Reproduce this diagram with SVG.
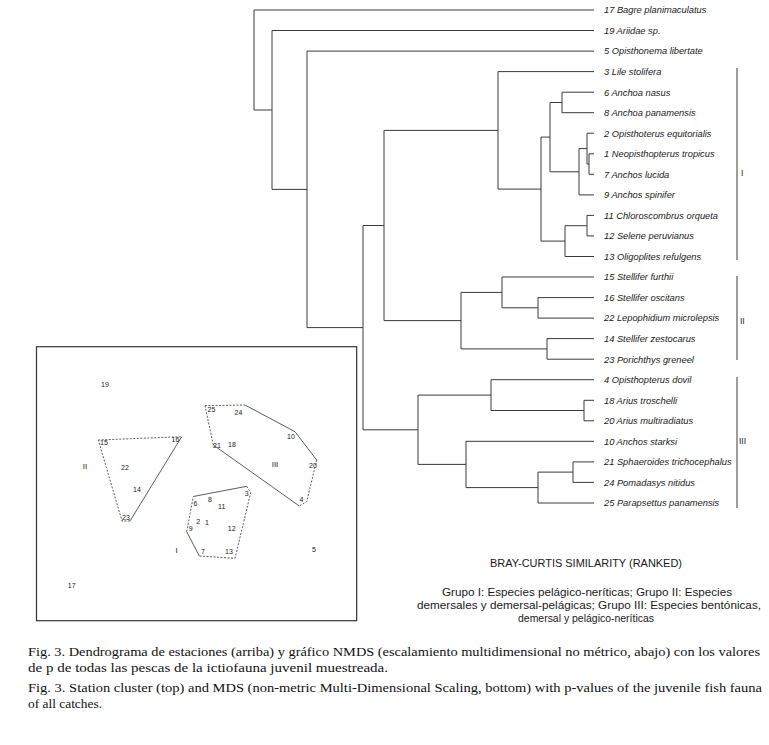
<svg xmlns="http://www.w3.org/2000/svg" width="769" height="745" viewBox="0 0 769 745">
<style>
.bg{fill:#ffffff}
.ln{fill:none;stroke:#3a3a3a;stroke-width:1}
.lf{font-family:"Liberation Sans",Arial,sans-serif;font-style:italic;font-size:9.3px;fill:#1a1a1a}
.gr{font-family:"Liberation Sans",Arial,sans-serif;font-size:8.5px;fill:#1a1a1a}
.pt{font-family:"Liberation Sans",Arial,sans-serif;font-size:7px;fill:#1a1a1a;text-anchor:middle}
.rn{font-family:"Liberation Sans",Arial,sans-serif;font-size:8px;fill:#1a1a1a;text-anchor:middle}
.box{fill:none;stroke:#333;stroke-width:1.2}
.dsh{fill:none;stroke:#333;stroke-width:0.8;stroke-dasharray:2,1.5}
.sol{fill:none;stroke:#333;stroke-width:0.8}
.ttl{font-family:"Liberation Sans",Arial,sans-serif;font-size:11.5px;fill:#1a1a1a;text-anchor:middle}
.cap{font-family:"Liberation Serif","Times New Roman",serif;font-size:12.5px;fill:#111}
</style>
<rect class="bg" x="0" y="0" width="769" height="745"/>

<g id="connectors">
<path class="ln" d="
M254,10 V110 M254,10 H594 M254,110 H272
M272,30.5 V189.4 M272,30.5 H594 M272,189.4 H307
M307,51.1 V327.6 M307,51.1 H594 M307,327.6 H363
M363,225.5 V429.8 M363,225.5 H384 M363,429.8 H418
M384,130.4 V320.6 M384,130.4 H498 M384,320.6 H461
M498,71.6 V189.1 M498,71.6 H594 M498,189.1 H541
M541,137.1 V241.1 M541,137.1 H550 M541,241.1 H565
M550,102.5 V171.8 M550,102.5 H562 M550,171.8 H579
M562,92.2 V112.7 M562,92.2 H594 M562,112.7 H594
M579,148.6 V194.9 M579,148.6 H587 M579,194.9 H594
M587,133.2 V164 M587,133.2 H594 M587,164 H589
M589,153.8 V174.3 M589,153.8 H594 M589,174.3 H594
M565,225.7 V256.5 M565,225.7 H587 M565,256.5 H594
M587,215.4 V235.9 M587,215.4 H594 M587,235.9 H594
M461,292.4 V348.9 M461,292.4 H502 M461,348.9 H547
M502,277 V307.8 M502,277 H594 M502,307.8 H538
M538,297.6 V318.1 M538,297.6 H594 M538,318.1 H594
M547,338.6 V359.2 M547,338.6 H594 M547,359.2 H594
M418,395.1 V464.4 M418,395.1 H491 M418,464.4 H466
M491,379.7 V410.5 M491,379.7 H594 M491,410.5 H584
M584,400.3 V420.8 M584,400.3 H594 M584,420.8 H594
M466,441.3 V487.6 M466,441.3 H594 M466,487.6 H538
M538,472.1 V503 M538,472.1 H573 M538,503 H594
M573,461.9 V482.4 M573,461.9 H594 M573,482.4 H594
"/>
<path class="ln" d="M737,68 V260 M737,276 V360 M737,377 V508"/>
</g>

<g id="leaves">
<g id="leaf-17"><text class="lf" x="604" y="13.3">17 Bagre planimaculatus</text></g>
<g id="leaf-19"><text class="lf" x="604" y="33.8">19 Ariidae sp.</text></g>
<g id="leaf-5"><text class="lf" x="604" y="54.4">5 Opisthonema libertate</text></g>
<g id="leaf-3"><text class="lf" x="604" y="74.9">3 Lile stolifera</text></g>
<g id="leaf-6"><text class="lf" x="604" y="95.5">6 Anchoa nasus</text></g>
<g id="leaf-8"><text class="lf" x="604" y="116">8 Anchoa panamensis</text></g>
<g id="leaf-2"><text class="lf" x="604" y="136.5">2 Opisthoterus equitorialis</text></g>
<g id="leaf-1"><text class="lf" x="604" y="157.1">1 Neopisthopterus tropicus</text></g>
<g id="leaf-7"><text class="lf" x="604" y="177.6">7 Anchos lucida</text></g>
<g id="leaf-9"><text class="lf" x="604" y="198.2">9 Anchos spinifer</text></g>
<g id="leaf-11"><text class="lf" x="604" y="218.7">11 Chloroscombrus orqueta</text></g>
<g id="leaf-12"><text class="lf" x="604" y="239.2">12 Selene peruvianus</text></g>
<g id="leaf-13"><text class="lf" x="604" y="259.8">13 Oligoplites refulgens</text></g>
<g id="leaf-15"><text class="lf" x="604" y="280.3">15 Stellifer furthii</text></g>
<g id="leaf-16"><text class="lf" x="604" y="300.9">16 Stellifer oscitans</text></g>
<g id="leaf-22"><text class="lf" x="604" y="321.4">22 Lepophidium microlepsis</text></g>
<g id="leaf-14"><text class="lf" x="604" y="341.9">14 Stellifer zestocarus</text></g>
<g id="leaf-23"><text class="lf" x="604" y="362.5">23 Porichthys greneel</text></g>
<g id="leaf-4"><text class="lf" x="604" y="383">4 Opisthopterus dovil</text></g>
<g id="leaf-18"><text class="lf" x="604" y="403.6">18 Arius troschelli</text></g>
<g id="leaf-20"><text class="lf" x="604" y="424.1">20 Arius multiradiatus</text></g>
<g id="leaf-10"><text class="lf" x="604" y="444.6">10 Anchos starksi</text></g>
<g id="leaf-21"><text class="lf" x="604" y="465.2">21 Sphaeroides trichocephalus</text></g>
<g id="leaf-24"><text class="lf" x="604" y="485.7">24 Pomadasys nitidus</text></g>
<g id="leaf-25"><text class="lf" x="604" y="506.3">25 Parapsettus panamensis</text></g>
</g>

<g id="groups">
<text class="gr" x="741" y="176">I</text>
<text class="gr" x="740" y="324">II</text>
<text class="gr" x="739" y="444">III</text>
</g>

<g id="nmds">
<rect class="box" x="36.5" y="346.7" width="320.2" height="274"/>
<path class="dsh" d="M98.3,440 L181.7,436.7 M130,521 L122,521 L98.3,440"/>
<path class="sol" d="M181.7,436.7 L130,521"/>
<path class="dsh" d="M205,405.7 L245,405 M316.7,460 L306.7,501.7 L299.3,506 M213.3,445 L205,405.7"/>
<path class="sol" d="M245,405 L295,431.7 L316.7,460 M299.3,506 L213.3,445"/>
<path class="dsh" d="M246.7,486.3 L250.7,492.7 L235,558.3 L199.3,556 M186.7,531.7 L193.3,496.5"/>
<path class="sol" d="M193.3,496.5 L246.7,486.3 M199.3,556 L186.7,531.7"/>
<text class="pt" x="105" y="386.5">19</text>
<text class="pt" x="104" y="445">15</text>
<text class="pt" x="175.5" y="441.5">16</text>
<text class="pt" x="125" y="470">22</text>
<text class="rn" x="85" y="469">II</text>
<text class="pt" x="137" y="491.5">14</text>
<text class="pt" x="126" y="520">23</text>
<text class="pt" x="211.5" y="411.5">25</text>
<text class="pt" x="238.5" y="414.5">24</text>
<text class="pt" x="291" y="439">10</text>
<text class="rn" x="275" y="467">III</text>
<text class="pt" x="313" y="467.5">20</text>
<text class="pt" x="217" y="447.5">21</text>
<text class="pt" x="232" y="446.5">18</text>
<text class="pt" x="301.5" y="501.5">4</text>
<text class="pt" x="246.7" y="495.5">3</text>
<text class="pt" x="195.5" y="505.5">6</text>
<text class="pt" x="210" y="501.5">8</text>
<text class="pt" x="221.7" y="509">11</text>
<text class="pt" x="198.3" y="524">2</text>
<text class="pt" x="207" y="525">1</text>
<text class="pt" x="190.7" y="530.8">9</text>
<text class="pt" x="231.7" y="530.8">12</text>
<text class="pt" x="203" y="553.5">7</text>
<text class="pt" x="229" y="553.5">13</text>
<text class="rn" x="176.7" y="553">I</text>
<text class="pt" x="314" y="551.5">5</text>
<text class="pt" x="71.7" y="587.5">17</text>
</g>

<g id="legend">
<text class="ttl" x="586" y="567" textLength="192" lengthAdjust="spacingAndGlyphs">BRAY-CURTIS SIMILARITY (RANKED)</text>
<text class="ttl" x="587" y="596" textLength="290" lengthAdjust="spacingAndGlyphs">Grupo I: Especies pelágico-neríticas; Grupo II: Especies</text>
<text class="ttl" x="589" y="609" textLength="344" lengthAdjust="spacingAndGlyphs">demersales y demersal-pelágicas; Grupo III: Especies bentónicas,</text>
<text class="ttl" x="586" y="621.5" textLength="136" lengthAdjust="spacingAndGlyphs">demersal y pelágico-neríticas</text>
</g>

<g id="caption">
<text class="cap" x="28" y="656" textLength="732" lengthAdjust="spacingAndGlyphs">Fig. 3. Dendrograma de estaciones (arriba) y gráfico NMDS (escalamiento multidimensional no métrico, abajo) con los valores</text>
<text class="cap" x="28" y="672" textLength="360" lengthAdjust="spacingAndGlyphs">de p de todas las  pescas de la ictiofauna juvenil muestreada.</text>
<text class="cap" x="28" y="692" textLength="734" lengthAdjust="spacingAndGlyphs">Fig. 3. Station cluster (top) and MDS (non-metric Multi-Dimensional Scaling, bottom) with p-values of the juvenile fish fauna</text>
<text class="cap" x="28" y="708" textLength="74" lengthAdjust="spacingAndGlyphs">of all catches.</text>
</g>
</svg>
